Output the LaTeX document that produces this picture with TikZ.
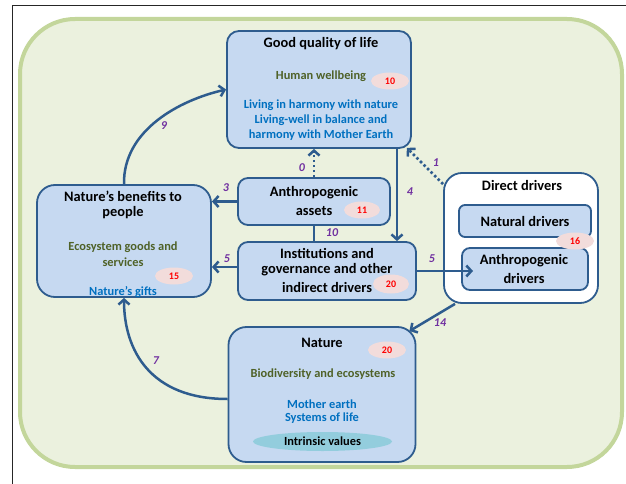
\documentclass[tikz,border=0pt]{standalone}
\usepackage{fontspec}
\setmainfont{Carlito}
\usetikzlibrary{arrows.meta,shapes.geometric}
\definecolor{boxfill}{HTML}{C6D9F1}
\definecolor{boxline}{HTML}{2E5C8E}
\definecolor{arr}{HTML}{2E5C8E}
\definecolor{lab}{HTML}{7030A0}
\definecolor{gtext}{HTML}{4F6228}
\definecolor{btext}{HTML}{0070C0}
\definecolor{badgefill}{HTML}{F2DCDB}
\definecolor{outerfill}{HTML}{EBF1DE}
\definecolor{outerline}{HTML}{C3D69B}
\definecolor{intr}{HTML}{93CDDD}
\begin{document}
\begin{tikzpicture}[x=1pt,y=-1pt,
  box/.style={draw=boxline, fill=boxfill, line width=1.8pt, rounded corners=#1, inner sep=0pt},
  box/.default=12pt,
  ttl/.style={font=\fontsize{14.4}{16}\selectfont\bfseries, text=black, inner sep=0pt, align=center},
  grn/.style={font=\fontsize{12.4}{14}\selectfont\bfseries, text=gtext, inner sep=0pt, align=center},
  blu/.style={font=\fontsize{12.4}{14}\selectfont\bfseries, text=btext, inner sep=0pt, align=center},
  badge/.style={ellipse, fill=badgefill, minimum width=38pt, minimum height=17pt, inner sep=0pt, text=red, font=\fontsize{10}{11}\selectfont\bfseries},
  numlab/.style={text=lab, font=\fontsize{12}{14}\selectfont\bfseries\itshape, inner sep=0pt},
  arrow/.style={draw=arr, line width=2.5pt, -{Straight Barb[length=5pt,width=11pt]}},
  dotarrow/.style={arrow, dash pattern=on 2.5pt off 2.5pt},
  plain/.style={draw=arr, line width=2.5pt}
]
\useasboundingbox (0,0) rectangle (626,484);
% frame and background
\draw[line width=1pt, black!85] (12,484) -- (12,6) -- (626,6);
\draw[draw=outerline, fill=outerfill, line width=4pt, rounded corners=55pt] (20,19) rectangle (622,467);

% boxes
\node[box, minimum width=184pt, minimum height=117pt] (gql) at (319,89.5) {};
\node[box=18pt, minimum width=174pt, minimum height=112pt] (benef) at (124,241) {};
\node[box=10pt, minimum width=152pt, minimum height=47pt] (assets) at (314,201.5) {};
\node[box=10pt, minimum width=178pt, minimum height=58pt] (inst) at (327,271) {};
\node[box=18pt, fill=white, minimum width=154pt, minimum height=130pt] (dd) at (521,238) {};
\node[box=6pt, minimum width=132pt, minimum height=32pt] (nd) at (525,221) {};
\node[box=8pt, minimum width=126pt, minimum height=42pt] (ad) at (525,269) {};
\node[box=18pt, minimum width=187pt, minimum height=135pt] (nature) at (322,394.5) {};

% texts: good quality of life
\node[ttl] (t1) at (321,44) {Good quality of life};
\node[grn] (t2) at (321,76) {Human wellbeing};
\node[badge] (b10) at (390,81) {10};
\node[blu] (t3) at (321,105) {Living in harmony with nature};
\node[blu] (t4) at (321,120) {Living-well in balance and};
\node[blu] (t5) at (321,135) {harmony with Mother Earth};

% nature's benefits
\node[ttl] (t6) at (123,196) {Nature’s benefits to};
\node[ttl] (t7) at (123,213) {people};
\node[grn] (t8) at (123,247) {Ecosystem goods and};
\node[grn] (t9) at (123,262) {services};
\node[badge] (b15) at (174,276) {15};
\node[blu] (t10) at (123,292) {Nature’s gifts};

% anthropogenic assets
\node[ttl] (t11) at (314,193) {Anthropogenic};
\node[ttl] (t12) at (314,211) {assets};
\node[badge, minimum width=36pt] (b11) at (362,210) {11};

% institutions
\node[ttl] (t13) at (327,253) {Institutions and};
\node[ttl] (t14) at (327,270) {governance and other};
\node[ttl] (t15) at (327,287) {indirect drivers};
\node[badge, minimum width=36pt, minimum height=19pt] (b20a) at (391,284) {20};

% direct drivers
\node[ttl] (t16) at (522,186) {Direct drivers};
\node[ttl] (t17) at (525,221) {Natural drivers};
\node[ttl] (t18) at (524,261) {Anthropogenic};
\node[ttl] (t19) at (524,278) {drivers};
\node[badge] (b16) at (575,241) {16};

% nature
\node[ttl] (t20) at (322,343) {Nature};
\node[badge] (b20b) at (387,350) {20};
\node[grn] (t21) at (323,374) {Biodiversity and ecosystems};
\node[blu] (t22) at (322,404) {Mother earth};
\node[blu] (t23) at (322,418) {Systems of life};
\node[ellipse, fill=intr, minimum width=139pt, minimum height=19pt, inner sep=0pt, font=\fontsize{12.4}{14}\selectfont\bfseries] (iv) at (322.5,441.5) {Intrinsic values};

% connectors
\coordinate (c4) at (397,148);
\coordinate (t5r) at (473,271);
\draw[arrow] (benef.north) .. controls (123,130) and (180,100) .. (gql.west);
\draw[dotarrow] (assets.north) -- (assets.north |- gql.south);
\draw[arrow] (assets.west) -- (assets.west -| benef.east);
\draw[arrow] ([yshift=4pt]inst.west) -- ([yshift=4pt]inst.west -| benef.east);
\draw[plain] (assets.south) -- (assets.south |- inst.north);
\draw[arrow] (c4) -- (c4 |- inst.north);
\draw[dotarrow] ([yshift=-12pt]dd.north west) -- ([xshift=-5pt,yshift=1pt]gql.south east);
\draw[arrow] (inst.east) -- (t5r);
\draw[arrow] ([xshift=-66pt]dd.south) -- ([xshift=-7pt,yshift=-5pt]nature.north east);
\draw[arrow] ([yshift=-4.5pt]nature.west) .. controls (150,399) and (124,350) .. (benef.south);

% connector labels
\node[numlab] (n9) at (164,126) {9};
\node[numlab] (n0) at (302,168) {0};
\node[numlab] (n1) at (436,163) {1};
\node[numlab] (n4) at (410,192) {4};
\node[numlab] (n3) at (226,188) {3};
\node[numlab] (n5a) at (227,259) {5};
\node[numlab] (n10) at (332,233) {10};
\node[numlab] (n5b) at (432,259) {5};
\node[numlab] (n14) at (440,323) {14};
\node[numlab] (n7) at (156,361) {7};
\end{tikzpicture}
\end{document}
